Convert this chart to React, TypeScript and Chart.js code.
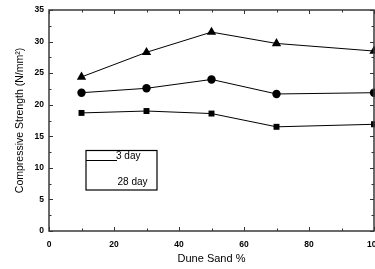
import React, { useEffect, useRef } from "react";
import { Chart, registerables } from "chart.js";

Chart.register(...registerables);

// ---- data ----
const duneSandPercent = [10, 30, 50, 70, 100];
const squareSeries = [18.7, 19.0, 18.6, 16.5, 16.9];
const circleSeries = [21.9, 22.6, 24.0, 21.7, 21.9];
const triangleSeries = [24.4, 28.3, 31.5, 29.7, 28.5];
const legendLabels = ["3 day", "28 day"];
const xTitle = "Dune Sand %";
const yTitle = "Compressive Strength (N/mm\u00B2)";

const FONT = "'Liberation Sans', Arial, Helvetica, sans-serif";

const framePlugin = {
  id: "frameTicks",
  afterDraw(chart: any) {
    const { ctx, chartArea: a, scales } = chart;
    const xs = scales.x;
    const ys = scales.y;
    ctx.save();
    // inward ticks
    ctx.strokeStyle = "#333";
    ctx.lineWidth = 1;
    ctx.beginPath();
    for (let v = 0; v <= 100; v += 10) {
      const px = Math.round(xs.getPixelForValue(v)) + 0.5;
      const len = v % 20 === 0 ? 4 : 2.5;
      ctx.moveTo(px, a.bottom);
      ctx.lineTo(px, a.bottom - len);
      ctx.moveTo(px, a.top);
      ctx.lineTo(px, a.top + len);
    }
    for (let v = 0; v <= 35; v += 2.5) {
      const py = Math.round(ys.getPixelForValue(v)) + 0.5;
      const len = v % 5 === 0 ? 4 : 2.5;
      ctx.moveTo(a.left, py);
      ctx.lineTo(a.left + len, py);
      ctx.moveTo(a.right, py);
      ctx.lineTo(a.right - len, py);
    }
    ctx.stroke();
    // frame
    ctx.strokeStyle = "#3a3a3a";
    ctx.lineWidth = 1.5;
    ctx.strokeRect(a.left, a.top, a.right - a.left, a.bottom - a.top);

    // legend box
    const lx = 86, ly = 150.5, lw = 71, lh = 39.5;
    ctx.strokeStyle = "#000";
    ctx.lineWidth = 1.2;
    ctx.strokeRect(lx, ly, lw, lh);
    ctx.lineWidth = 1;
    ctx.beginPath();
    ctx.moveTo(lx, 160.5);
    ctx.lineTo(117, 160.5);
    ctx.stroke();
    ctx.fillStyle = "#000";
    ctx.font = `10px ${FONT}`;
    ctx.textBaseline = "middle";
    ctx.textAlign = "left";
    ctx.fillText(legendLabels[0], 116, 156);
    ctx.fillText(legendLabels[1], 117.5, 182);
    ctx.restore();
  },
};

export default function App() {
  const ref = useRef<HTMLCanvasElement | null>(null);

  useEffect(() => {
    document.body.style.margin = "0";
    const canvas = ref.current;
    if (!canvas) return;
    const mk = (data: number[], style: string, r: number) => ({
      data: duneSandPercent.map((x, i) => ({ x, y: data[i] })),
      borderColor: "#000",
      backgroundColor: "#000",
      borderWidth: 1,
      pointStyle: style,
      pointRadius: r,
      pointBorderWidth: 0,
      pointBackgroundColor: "#000",
      showLine: true,
      clip: false as any,
    });
    const chart = new Chart(canvas, {
      type: "scatter",
      data: {
        datasets: [
          mk(squareSeries, "rect", 4.2),
          mk(circleSeries, "circle", 4.2),
          mk(triangleSeries, "triangle", 5.4),
        ],
      },
      options: {
        responsive: false,
        animation: false,
        devicePixelRatio: 1,
        layout: { autoPadding: false, padding: { top: 10, right: 1, left: 0, bottom: 0 } },
        plugins: { legend: { display: false }, tooltip: { enabled: false } },
        scales: {
          x: {
            type: "linear",
            min: 0,
            max: 100,
            grid: { display: false, drawTicks: false },
            border: { display: false },
            ticks: {
              stepSize: 20,
              padding: 9,
              color: "#000",
              font: { family: FONT, size: 8.5, weight: "bold" },
              maxRotation: 0,
            },
            title: {
              display: true,
              text: xTitle,
              color: "#000",
              font: { family: FONT, size: 11 },
              padding: { top: 0, bottom: 3 },
            },
            afterFit: (s: any) => {
              s.height = 38;
              s.paddingLeft = 0;
              s.paddingRight = 0;
            },
          },
          y: {
            type: "linear",
            min: 0,
            max: 35,
            grid: { display: false, drawTicks: false },
            border: { display: false },
            ticks: {
              stepSize: 5,
              padding: 5,
              color: "#000",
              font: { family: FONT, size: 8.5, weight: "bold" },
            },
            title: {
              display: true,
              text: yTitle,
              color: "#000",
              font: { family: FONT, size: 10.5 },
              padding: { top: 13.5, bottom: 0 },
            },
            afterFit: (s: any) => {
              s.width = 49;
              s.paddingTop = 0;
              s.paddingBottom = 0;
            },
          },
        },
      } as any,
      plugins: [framePlugin],
    });
    return () => chart.destroy();
  }, []);

  return (
    <div style={{ position: "absolute", left: 0, top: 0, width: 375, height: 269, overflow: "hidden", background: "#fff" }}>
      <canvas ref={ref} width={375} height={269} style={{ width: 375, height: 269, display: "block" }} />
    </div>
  );
}
